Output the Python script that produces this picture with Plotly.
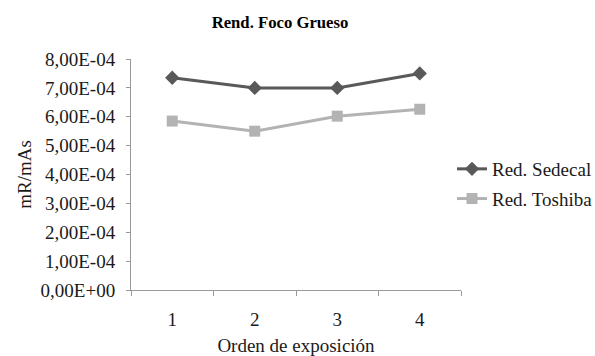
import plotly.graph_objects as go

# Exposure order (categories) and tube output in mR/mAs
orden = ["1", "2", "3", "4"]
red_sedecal = [7.35e-4, 7.0e-4, 7.0e-4, 7.5e-4]
red_toshiba = [5.85e-4, 5.5e-4, 6.02e-4, 6.26e-4]

y_ticks = [0, 1e-4, 2e-4, 3e-4, 4e-4, 5e-4, 6e-4, 7e-4, 8e-4]
y_tick_labels = ["0,00E+00", "1,00E-04", "2,00E-04", "3,00E-04", "4,00E-04",
                 "5,00E-04", "6,00E-04", "7,00E-04", "8,00E-04"]

serif = '"Liberation Serif", "Times New Roman", serif'
axis_grey = "#999999"
text_col = "#1a1a1a"
fs = 19

fig = go.Figure()
fig.add_trace(go.Scatter(
    x=orden, y=red_sedecal, name="Red. Sedecal", mode="lines+markers",
    legendgroup="a",
    line=dict(color="#595959", width=3),
    marker=dict(symbol="diamond", size=11, color="#595959"),
))
fig.add_trace(go.Scatter(
    x=orden, y=red_toshiba, name="Red. Toshiba", mode="lines+markers",
    legendgroup="b",
    line=dict(color="#b3b3b3", width=3),
    marker=dict(symbol="square", size=11, color="#b3b3b3"),
))

fig.update_layout(
    width=595, height=356,
    margin=dict(l=131, r=134, t=59, b=66, autoexpand=False),
    paper_bgcolor="white", plot_bgcolor="white",
    font=dict(family=serif, size=fs, color=text_col),
    title=dict(text="<b>Rend. Foco Grueso</b>", x=280 / 595, xanchor="center",
               y=1 - 22 / 356, yanchor="middle",
               font=dict(family=serif, size=16.7, color="black")),
    showlegend=True,
    legend=dict(x=(452 - 131) / 330, y=(290 - 150) / 231,
                xanchor="left", yanchor="top", traceorder="grouped",
                tracegroupgap=2, font=dict(family=serif, size=fs, color=text_col),
                bgcolor="rgba(0,0,0,0)", itemwidth=30),
    xaxis=dict(
        type="category", range=[-0.5, 3.5], tickson="boundaries",
        ticks="outside", ticklen=5, tickcolor=axis_grey,
        showline=True, linecolor=axis_grey, linewidth=1,
        showgrid=False, zeroline=False, ticklabelstandoff=12,
        title=dict(text="Orden de exposición", standoff=15,
                   font=dict(family=serif, size=fs)),
        tickfont=dict(family=serif, size=fs),
    ),
    yaxis=dict(
        range=[0, 8e-4], tickvals=y_ticks, ticktext=y_tick_labels,
        ticks="outside", ticklen=4, tickcolor=axis_grey,
        showline=True, linecolor=axis_grey, linewidth=1,
        showgrid=False, zeroline=False, ticklabelstandoff=7,
        title=dict(text="mR/mAs", standoff=3, font=dict(family=serif, size=fs)),
        tickfont=dict(family=serif, size=fs),
    ),
)

fig.write_html("out.html")
